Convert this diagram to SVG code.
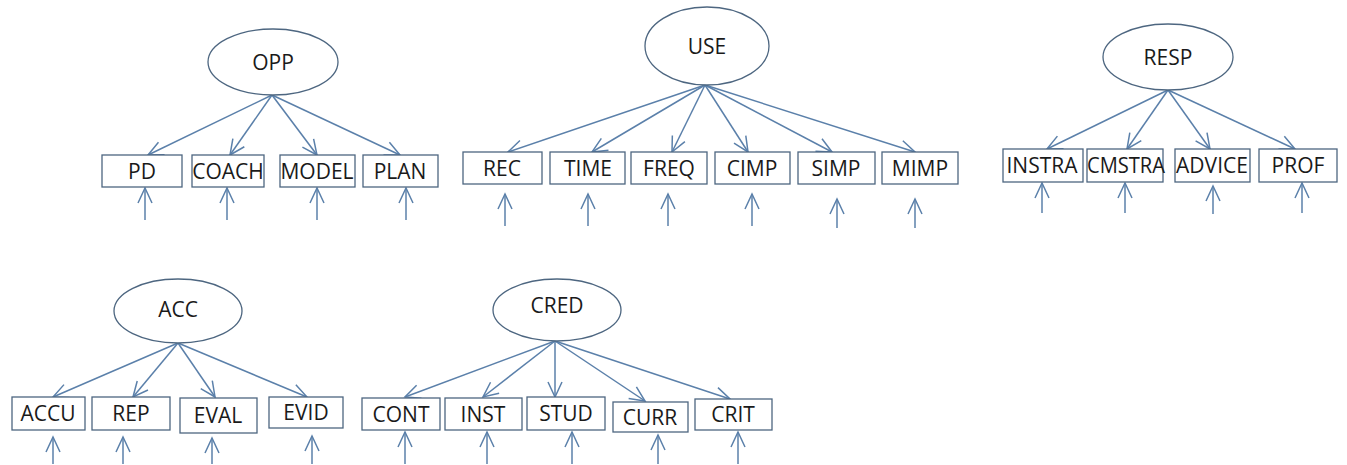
<svg xmlns="http://www.w3.org/2000/svg" width="1347" height="465" viewBox="0 0 1347 465">
<defs>
<marker id="ah" markerUnits="userSpaceOnUse" markerWidth="18" markerHeight="18" refX="16" refY="8" orient="auto">
<path d="M1,1 L16,8 L1,15" fill="none" stroke="#5b80aa" stroke-width="1.5"/>
</marker>
<style>
.lat{fill:#fff;stroke:#4d6680;stroke-width:1.3}
.box{fill:#fff;stroke:#4d6680;stroke-width:1.3}
.t{font-family:"Open Sans","Liberation Sans",sans-serif;font-size:21px;fill:#1a1a1a;text-anchor:middle;dominant-baseline:central}
.c line{stroke:#5b80aa;stroke-width:1.5;marker-end:url(#ah)}
</style>
</defs>
<rect width="1347" height="465" fill="#fff"/>
<g class="c" id="connectors">
<line x1="272" y1="95" x2="148" y2="155"/>
<line x1="272" y1="95" x2="230" y2="155"/>
<line x1="272" y1="95" x2="317" y2="155"/>
<line x1="272" y1="95" x2="400" y2="155"/>
<line x1="145" y1="220" x2="145" y2="188"/>
<line x1="227" y1="220" x2="227" y2="188"/>
<line x1="317" y1="220" x2="317" y2="188"/>
<line x1="406" y1="220" x2="406" y2="188"/>
<line x1="705" y1="85" x2="508" y2="152"/>
<line x1="705" y1="85" x2="592" y2="152"/>
<line x1="705" y1="85" x2="672" y2="152"/>
<line x1="705" y1="85" x2="748" y2="152"/>
<line x1="705" y1="85" x2="832" y2="152"/>
<line x1="705" y1="85" x2="915" y2="152"/>
<line x1="505" y1="226" x2="505" y2="194"/>
<line x1="588" y1="226" x2="588" y2="194"/>
<line x1="668" y1="226" x2="668" y2="194"/>
<line x1="752" y1="226" x2="752" y2="194"/>
<line x1="837" y1="228" x2="837" y2="199"/>
<line x1="915" y1="228" x2="915" y2="199"/>
<line x1="1168" y1="90" x2="1047" y2="149"/>
<line x1="1168" y1="90" x2="1127" y2="149"/>
<line x1="1168" y1="90" x2="1210" y2="149"/>
<line x1="1168" y1="90" x2="1295" y2="149"/>
<line x1="1042" y1="213" x2="1042" y2="183"/>
<line x1="1125" y1="213" x2="1125" y2="183"/>
<line x1="1213" y1="214" x2="1213" y2="186"/>
<line x1="1302" y1="213" x2="1302" y2="183"/>
<line x1="178" y1="343" x2="53" y2="397"/>
<line x1="178" y1="343" x2="133" y2="397"/>
<line x1="178" y1="343" x2="215" y2="397"/>
<line x1="178" y1="343" x2="307" y2="397"/>
<line x1="53" y1="464" x2="53" y2="437"/>
<line x1="123" y1="464" x2="123" y2="437"/>
<line x1="212" y1="464" x2="212" y2="438"/>
<line x1="312" y1="464" x2="312" y2="436"/>
<line x1="555" y1="341" x2="405" y2="397"/>
<line x1="555" y1="341" x2="483" y2="397"/>
<line x1="555" y1="341" x2="555" y2="397"/>
<line x1="555" y1="341" x2="645" y2="401"/>
<line x1="555" y1="341" x2="730" y2="399"/>
<line x1="405" y1="464" x2="405" y2="432"/>
<line x1="487" y1="464" x2="487" y2="432"/>
<line x1="572" y1="464" x2="572" y2="432"/>
<line x1="658" y1="464" x2="658" y2="435"/>
<line x1="738" y1="464" x2="738" y2="432"/>
</g>
<g id="OPP"><ellipse class="lat" cx="273" cy="62" rx="65" ry="33"/><text class="t" x="273" y="62">OPP</text></g>
<g id="PD"><rect class="box" x="102" y="155" width="80" height="32"/><text class="t" x="142" y="171">PD</text></g>
<g id="COACH"><rect class="box" x="192" y="155" width="72" height="32"/><text class="t" x="228" y="171">COACH</text></g>
<g id="MODEL"><rect class="box" x="280" y="155" width="75" height="32"/><text class="t" x="317" y="171">MODEL</text></g>
<g id="PLAN"><rect class="box" x="363" y="155" width="75" height="32"/><text class="t" x="400" y="171">PLAN</text></g>
<g id="USE"><ellipse class="lat" cx="707" cy="46" rx="62" ry="39"/><text class="t" x="707" y="46">USE</text></g>
<g id="REC"><rect class="box" x="463" y="152" width="79" height="32"/><text class="t" x="502" y="168">REC</text></g>
<g id="TIME"><rect class="box" x="550" y="152" width="75" height="32"/><text class="t" x="588" y="168">TIME</text></g>
<g id="FREQ"><rect class="box" x="631" y="152" width="76" height="32"/><text class="t" x="669" y="168">FREQ</text></g>
<g id="CIMP"><rect class="box" x="715" y="152" width="75" height="32"/><text class="t" x="752" y="168">CIMP</text></g>
<g id="SIMP"><rect class="box" x="798" y="152" width="77" height="32"/><text class="t" x="836" y="168">SIMP</text></g>
<g id="MIMP"><rect class="box" x="882" y="152" width="76" height="32"/><text class="t" x="920" y="168">MIMP</text></g>
<g id="RESP"><ellipse class="lat" cx="1168" cy="57" rx="65" ry="33"/><text class="t" x="1168" y="57">RESP</text></g>
<g id="INSTRA"><rect class="box" x="1003" y="149" width="80" height="33"/><text class="t" x="1042" y="165">INSTRA</text></g>
<g id="CMSTRA"><rect class="box" x="1087" y="149" width="76" height="33"/><text class="t" x="1126" y="165" textLength="78" lengthAdjust="spacingAndGlyphs">CMSTRA</text></g>
<g id="ADVICE"><rect class="box" x="1175" y="149" width="75" height="33"/><text class="t" x="1212" y="165">ADVICE</text></g>
<g id="PROF"><rect class="box" x="1259" y="149" width="78" height="33"/><text class="t" x="1298" y="165">PROF</text></g>
<g id="ACC"><ellipse class="lat" cx="178" cy="311" rx="64" ry="32"/><text class="t" x="178" y="309">ACC</text></g>
<g id="ACCU"><rect class="box" x="12" y="397" width="73" height="33"/><text class="t" x="48" y="413">ACCU</text></g>
<g id="REP"><rect class="box" x="92" y="397" width="78" height="33"/><text class="t" x="131" y="413">REP</text></g>
<g id="EVAL"><rect class="box" x="180" y="398" width="77" height="35"/><text class="t" x="218" y="415">EVAL</text></g>
<g id="EVID"><rect class="box" x="269" y="397" width="74" height="31"/><text class="t" x="306" y="412">EVID</text></g>
<g id="CRED"><ellipse class="lat" cx="557" cy="310" rx="64" ry="31"/><text class="t" x="557" y="305">CRED</text></g>
<g id="CONT"><rect class="box" x="362" y="398" width="78" height="32"/><text class="t" x="401" y="414">CONT</text></g>
<g id="INST"><rect class="box" x="445" y="398" width="77" height="32"/><text class="t" x="483" y="414">INST</text></g>
<g id="STUD"><rect class="box" x="527" y="397" width="78" height="33"/><text class="t" x="566" y="413">STUD</text></g>
<g id="CURR"><rect class="box" x="613" y="402" width="75" height="30"/><text class="t" x="650" y="417">CURR</text></g>
<g id="CRIT"><rect class="box" x="695" y="399" width="77" height="31"/><text class="t" x="733" y="414">CRIT</text></g>
</svg>
